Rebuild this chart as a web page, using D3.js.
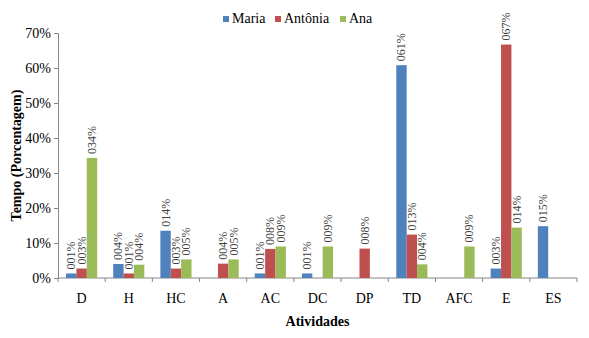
<!DOCTYPE html>
<html>
<head>
<meta charset="utf-8">
<script src="https://cdn.jsdelivr.net/npm/d3@7"></script>
<style>
  body { margin: 0; background: #fff; }
</style>
</head>
<body>
<div id="chart"></div>
<script>
var categories = ["D", "H", "HC", "A", "AC", "DC", "DP", "TD", "AFC", "E", "ES"];
var seriesNames = ["Maria", "Antônia", "Ana"];
var maria   = [1.3, 4.0, 13.5, 0,   1.3, 1.3, 0,   60.8, 0,   2.7, 14.8];
var antonia = [2.7, 1.3, 2.7,  4.1, 8.3, 0,   8.4, 12.4, 0,   66.7, 0];
var ana     = [34.3, 3.8, 5.3, 5.3, 9.0, 9.0, 0,   3.9,  9.0, 14.4, 0];
var labelsMaria   = ["001%", "004%", "014%", "", "001%", "001%", "", "061%", "", "003%", "015%"];
var labelsAntonia = ["003%", "001%", "003%", "004%", "008%", "", "008%", "013%", "", "067%", ""];
var labelsAna     = ["034%", "004%", "005%", "005%", "009%", "009%", "", "004%", "009%", "014%", ""];
var yTicks = [0, 10, 20, 30, 40, 50, 60, 70];

var colors = ["#4F81BD", "#C0504D", "#9BBB59"];
var values = [maria, antonia, ana];
var labels = [labelsMaria, labelsAntonia, labelsAna];
var serif = "'Liberation Serif', 'Times New Roman', Times, 'DejaVu Serif', serif";

var width = 589, height = 338;
var margin = {left: 58, right: 12, top: 33, bottom: 60};

var svg = d3.select("#chart").append("svg")
    .attr("width", width)
    .attr("height", height)
    .style("font-family", serif);

var x = d3.scaleBand()
    .domain(categories)
    .range([margin.left, width - margin.right])
    .paddingInner(0.34)
    .paddingOuter(0.17);

var xs = d3.scaleBand()
    .domain(seriesNames)
    .range([0, x.bandwidth()]);

var y = d3.scaleLinear()
    .domain([0, 70])
    .range([height - margin.bottom, margin.top]);

// y axis
var yAxis = svg.append("g")
    .attr("transform", "translate(" + margin.left + ",0)")
    .call(d3.axisLeft(y).tickValues(yTicks).tickFormat(function(d){ return d + "%"; }).tickSize(4).tickPadding(3));
yAxis.attr("font-family", null).attr("font-size", 14);
yAxis.select(".domain").attr("stroke", "#868686");
yAxis.selectAll(".tick line").attr("stroke", "#868686");
yAxis.selectAll("text").attr("fill", "#000").style("font-family", serif);

// x axis
var xAxisY = y(0);
svg.append("line")
    .attr("x1", margin.left).attr("x2", width - margin.right)
    .attr("y1", xAxisY).attr("y2", xAxisY)
    .attr("stroke", "#868686");
var boundaries = d3.range(categories.length + 1);
svg.selectAll(".xtick")
    .data(boundaries)
    .enter().append("line")
    .attr("x1", function(i){ return margin.left + (width - margin.left - margin.right) * i / categories.length; })
    .attr("x2", function(i){ return margin.left + (width - margin.left - margin.right) * i / categories.length; })
    .attr("y1", xAxisY).attr("y2", xAxisY + 4)
    .attr("stroke", "#868686");
svg.selectAll(".xlabel")
    .data(categories)
    .enter().append("text")
    .attr("x", function(d){ return x(d) + x.bandwidth() / 2; })
    .attr("y", xAxisY + 25)
    .attr("text-anchor", "middle")
    .attr("font-size", 14)
    .text(function(d){ return d; });

// bars
seriesNames.forEach(function(name, s){
    var g = svg.append("g");
    g.selectAll("rect")
        .data(categories)
        .enter().append("rect")
        .attr("x", function(d){ return x(d) + xs(name); })
        .attr("width", xs.bandwidth())
        .attr("y", function(d, i){ return y(values[s][i]); })
        .attr("height", function(d, i){ return y(0) - y(values[s][i]); })
        .attr("fill", colors[s]);
    g.selectAll("text")
        .data(categories)
        .enter().append("text")
        .attr("transform", function(d, i){
            var cx = x(d) + xs(name) + xs.bandwidth() / 2 + 4;
            var cy = y(values[s][i]) - 4;
            return "translate(" + cx + "," + cy + ") rotate(-90)";
        })
        .attr("text-anchor", "start")
        .attr("fill", "#404040")
        .attr("font-size", 12)
        .text(function(d, i){ return labels[s][i]; });
});

// legend
var legendX = [223, 275, 340];
seriesNames.forEach(function(name, s){
    svg.append("rect")
        .attr("x", legendX[s]).attr("y", 16)
        .attr("width", 6).attr("height", 6)
        .attr("fill", colors[s]);
    svg.append("text")
        .attr("x", legendX[s] + 9).attr("y", 23)
        .attr("font-size", 14)
        .text(name);
});

// axis titles
svg.append("text")
    .attr("transform", "translate(21," + ((margin.top + height - margin.bottom) / 2) + ") rotate(-90)")
    .attr("text-anchor", "middle")
    .attr("font-size", 14)
    .attr("font-weight", "bold")
    .text("Tempo (Porcentagem)");
svg.append("text")
    .attr("x", (margin.left + width - margin.right) / 2)
    .attr("y", 326)
    .attr("text-anchor", "middle")
    .attr("font-size", 14)
    .attr("font-weight", "bold")
    .text("Atividades");
</script>
</body>
</html>
